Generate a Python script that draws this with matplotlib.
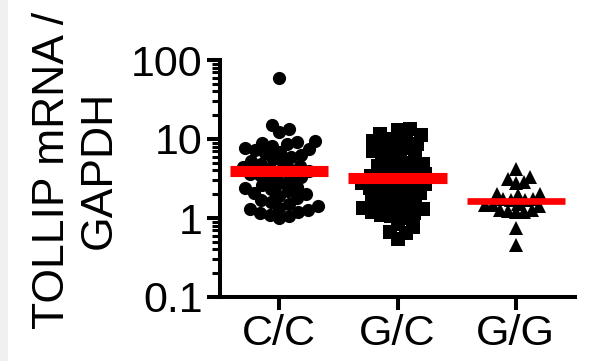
import numpy as np
import matplotlib.pyplot as plt
from matplotlib.patches import Rectangle

plt.rcParams['font.family'] = ['Liberation Sans', 'DejaVu Sans']

# genotype groups
groups = ['C/C', 'G/C', 'G/G']

# TOLLIP mRNA / GAPDH
cc_vals = [60, 14.9, 13.3, 12.1,
           9.5, 9.2, 9.0, 8.6, 8.2, 7.8, 7.5, 7.2, 6.9, 6.6,
           6.3, 6.0, 5.6, 5.3, 5.0, 4.8, 4.6, 4.4, 4.2, 4.0,
           3.9, 3.8, 3.6, 3.5, 3.3, 3.1, 3.0, 2.8, 2.6, 2.5,
           2.4, 2.3, 2.2, 2.1, 2.0, 1.9, 1.8, 1.7, 1.6, 1.5,
           1.4, 1.35, 1.3, 1.25, 1.2, 1.15, 1.1, 1.05, 1.0]
gc_vals = [13.5, 12.9, 11.7, 11.1,
           10.5, 10.0, 9.5, 9.0, 8.6, 8.2, 7.8, 7.4, 7.0, 6.6,
           6.2, 5.9, 5.6, 5.0, 4.8, 4.6, 4.4, 4.2, 4.0, 3.8,
           3.6, 3.4, 3.3, 3.2, 3.0, 2.9, 2.8, 2.7, 2.6, 2.5,
           2.4, 2.3, 2.2, 2.1, 2.0, 1.9, 1.8, 1.7, 1.65, 1.6,
           1.5, 1.4, 1.35, 1.3, 1.25, 1.2, 1.15, 1.1, 1.05, 1.0,
           0.85, 0.76, 0.66, 0.64, 0.55]
gg_vals = [4.2, 3.3, 2.85, 2.8, 3.1, 1.97, 2.03, 2.03,
           1.75, 1.7, 1.7, 1.75, 1.5, 1.45, 1.4, 1.45,
           1.25, 1.2, 1.2, 1.22, 1.25, 0.74, 0.45]

# red centre lines
centre_vals = [3.9, 3.2, 1.62]

yticks = [0.1, 1, 10, 100]
yticklabels = ['0.1', '1', '10', '100']


def swarm(values, d, px_decade=78.8, px_unit=118.0):
    """simple beeswarm: lowest values first, pushed sideways until no overlap"""
    ys = np.log10(values) * px_decade
    xs = np.zeros(len(values))
    placed = []
    for i in np.argsort(ys):
        y = ys[i]
        pos = None
        step = 0
        while pos is None:
            for sign in (1, -1):
                x = sign * step * 0.5
                if all((x - a) ** 2 + (y - b) ** 2 >= d * d for a, b in placed):
                    pos = x
                    break
            step += 1
        xs[i] = pos
        placed.append((pos, y))
    return xs / px_unit


fig = plt.figure(figsize=(6.08, 3.61), dpi=100)
fig.patches.append(Rectangle((0, 0), 8 / 608, 1, transform=fig.transFigure,
                             facecolor='#f0f0f0', edgecolor='none', zorder=0))
ax = fig.add_axes([220 / 608, 1 - 297 / 361, 355 / 608, 237 / 361])

data = [cc_vals, gc_vals, gg_vals]
markers = ['o', 's', '^']
msizes = [9.5, 10, 10]
dists = [10, 9.5, 8]
lws = [8, 8, 4.8]

for i, vals in enumerate(data):
    xs = i + swarm(vals, dists[i])
    ax.plot(xs, vals, linestyle='none', marker=markers[i], markersize=msizes[i],
            color='black', markeredgewidth=0, zorder=3, clip_on=False)
    ax.plot([i - 0.415, i + 0.415], [centre_vals[i]] * 2, color='#ff0000',
            lw=lws[i], solid_capstyle='butt', zorder=4)

ax.set_yscale('log')
ax.set_ylim(0.1, 100)
ax.set_xlim(-0.5, 2.5)
ax.set_yticks(yticks)
ax.set_yticklabels(yticklabels)
ax.set_xticks(range(len(groups)))
ax.set_xticklabels(groups)

for s in ['top', 'right']:
    ax.spines[s].set_visible(False)
for s in ['left', 'bottom']:
    ax.spines[s].set_linewidth(2.9)

ax.tick_params(which='major', length=9.4, width=2.9, labelsize=31, pad=3)
ax.tick_params(which='minor', length=5.8, width=2.2)
ax.tick_params(axis='x', which='minor', length=0)

fig.text(76 / 608, 1 - 170 / 361, 'TOLLIP mRNA /\nGAPDH', rotation=90,
         ha='center', va='center', fontsize=32, multialignment='center')

fig.savefig('out.png', dpi=100)
